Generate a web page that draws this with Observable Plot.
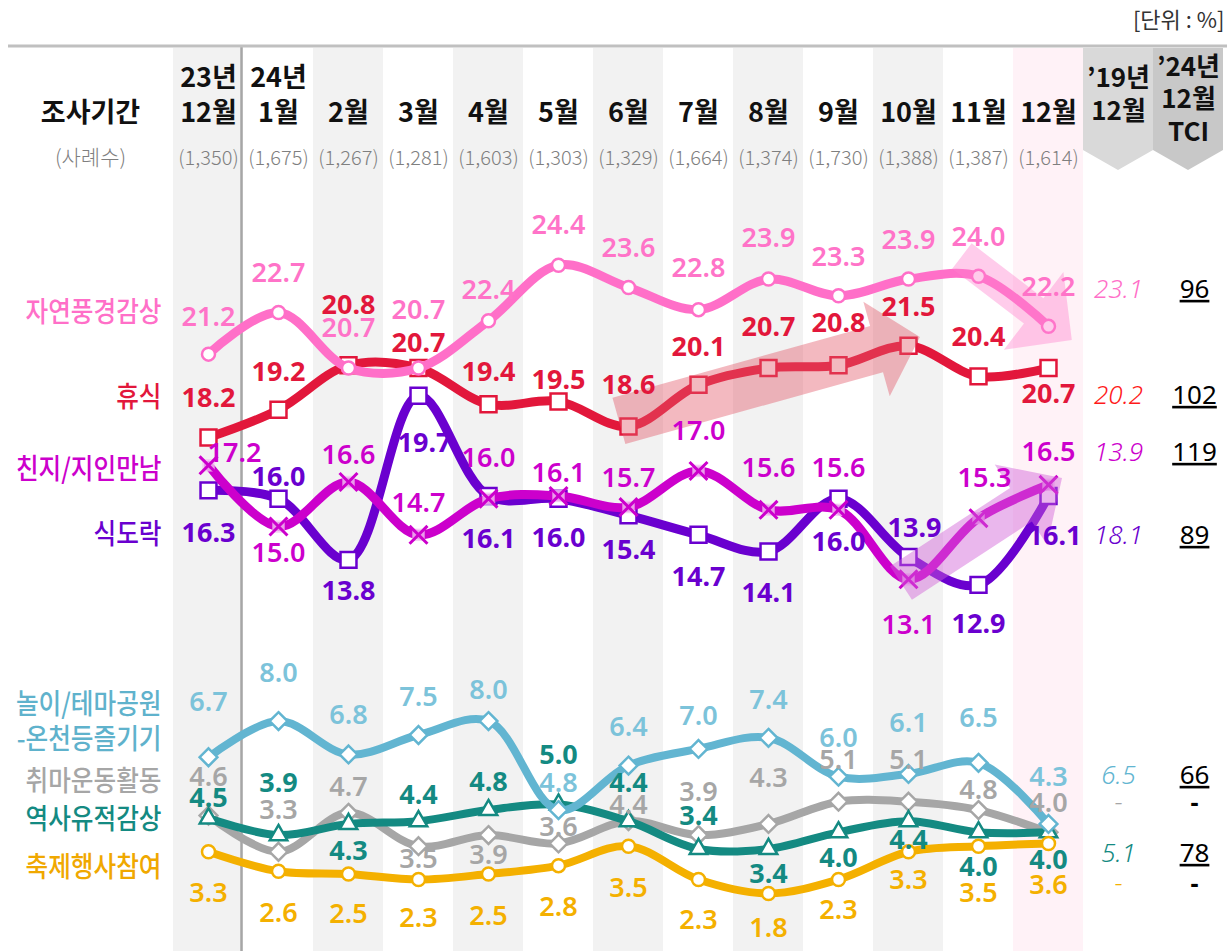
<!DOCTYPE html>
<html>
<head>
<meta charset="utf-8">
<script src="https://cdn.jsdelivr.net/npm/d3@7"></script>
<script src="https://cdn.jsdelivr.net/npm/@observablehq/plot@0.6"></script>
<style>
  body { margin: 0; background: #fff; }
  #chart svg { display: block; }
  g[font-variant="tabular-nums"] text { text-decoration: underline; text-decoration-thickness: 2px; text-underline-offset: 3px; }
</style>
</head>
<body>
<div id="chart"></div>
<script>
// ---------- DATA ----------
const periodYear = ["23년", "24년", "", "", "", "", "", "", "", "", "", "", ""];
const periodMonth = ["12월", "1월", "2월", "3월", "4월", "5월", "6월", "7월", "8월", "9월", "10월", "11월", "12월"];
const sampleSizes = [1350, 1675, 1267, 1281, 1603, 1303, 1329, 1664, 1374, 1730, 1388, 1387, 1614];

const seriesNames = ["자연풍경감상", "휴식", "친지/지인만남", "식도락", "놀이/테마공원\n-온천등즐기기", "취마운동활동", "역사유적감상", "축제행사참여"];

const natureSightseeing = [21.2, 22.7, 20.7, 20.7, 22.4, 24.4, 23.6, 22.8, 23.9, 23.3, 23.9, 24.0, 22.2];
const rest              = [18.2, 19.2, 20.8, 20.7, 19.4, 19.5, 18.6, 20.1, 20.7, 20.8, 21.5, 20.4, 20.7];
const meetingFriends    = [17.2, 15.0, 16.6, 14.7, 16.0, 16.1, 15.7, 17.0, 15.6, 15.6, 13.1, 15.3, 16.5];
const gourmet           = [16.3, 16.0, 13.8, 19.7, 16.1, 16.0, 15.4, 14.7, 14.1, 16.0, 13.9, 12.9, 16.1];
const themeParkSpa      = [6.7, 8.0, 6.8, 7.5, 8.0, 4.8, 6.4, 7.0, 7.4, 6.0, 6.1, 6.5, 4.3];
const hobbySports       = [4.6, 3.3, 4.7, 3.5, 3.9, 3.6, 4.4, 3.9, 4.3, 5.1, 5.1, 4.8, 4.0];
const historicSites     = [4.5, 3.9, 4.3, 4.4, 4.8, 5.0, 4.4, 3.4, 3.4, 4.0, 4.4, 4.0, 4.0];
const festivals         = [3.3, 2.6, 2.5, 2.3, 2.5, 2.8, 3.5, 2.3, 1.8, 2.3, 3.3, 3.5, 3.6];

const dec2019 = [23.1, 20.2, 13.9, 18.1, 6.5, null, 5.1, null];
const tci2024 = [96, 102, 119, 89, 66, null, 78, null];

const bannerHeaders = [["’19년", "12월"], ["’24년", "12월", "TCI"]];
const unitNote = "[단위 : %]";
const periodTitle = "조사기간";
const sampleTitle = "(사례수)";

// trend arrows: from/to in (column index, value)
const trendArrows = [
  {from: [5.87, 18.78], to: [10.17, 21.8]},
  {from: [10.77, 24.71], to: [12.34, 21.69]},
  {from: [9.9, 12.95], to: [12.2, 16.73]}
];

// ---------- STYLES / LAYOUT ----------
const KR = "'Noto Sans CJK KR', 'Noto Sans', sans-serif";
const NUM = "'Noto Sans', 'DejaVu Sans', sans-serif";

const seriesValues = [natureSightseeing, rest, meetingFriends, gourmet, themeParkSpa, hobbySports, historicSites, festivals];
const seriesStyle = [
  {color: "#ff6fc8", label: "#ff73c8", symbol: "circle", r: 6.5, lw: 9, weight: 600,
   dy: [-37, -39, -40, -58, -30, -40, -39, -41, -41, -38, -39, -39, -39], dx: []},
  {color: "#e2173b", label: "#e2173b", symbol: "square", r: 9, lw: 9, weight: 700,
   dy: [-39, -37, -60, -25, -32, -21, -41, -37, -41, -42, -38, -39, 26], dx: []},
  {color: "#cc00cc", label: "#cc00cc", symbol: "times", r: 8.2, lw: 9, weight: 600,
   dy: [-12, 27, -27, -31, -40, -23, -29, -40, -41, -41, 46, -40, -32], dx: [26, 0, 0, 0, 0, 0, 0, 0, 0, 0, 0, 6, 0]},
  {color: "#6a00cf", label: "#6a00cf", symbol: "square", r: 9, lw: 9, weight: 700,
   dy: [43, -21, 31, 48, 43, 40, 35, 43, 42, 44, -29, 39, 40], dx: [0, 0, 0, 6, 0, 0, 0, 0, 0, 0, 6, 0, 6]},
  {color: "#62b5d1", label: "#7cc3da", symbol: "diamond2", r: 8, lw: 8, weight: 600,
   dy: [-55, -48, -39, -38, -31, -27, -38, -33, -37, -38, -51, -44, -47], dx: []},
  {color: "#a6a6a6", label: "#a6a6a6", symbol: "diamond2", r: 8, lw: 8, weight: 600,
   dy: [-38, -41, -25, 13, 20, -16, -16, -43, -46, -41, -41, -20, -29], dx: []},
  {color: "#148a82", label: "#148a82", symbol: "triangle", r: 6.5, lw: 8, weight: 700,
   dy: [-20, -52, 27, -26, -28, -49, -38, -33, 25, 26, 19, 35, 28], dx: []},
  {color: "#f4b000", label: "#f4b000", symbol: "circle", r: 6.5, lw: 8, weight: 600,
   dy: [42, 42, 40, 39, 42, 42, 42, 41, 35, 31, 29, 47, 42], dx: []}
];
const nameColors = ["#ff6fc8", "#e2173b", "#cc00cc", "#6a00cf", "#5fb2cc", "#a6a6a6", "#148a82", "#f0a800"];
const nameRowY = [313, 398, 470, 535, [705, 740], 782, 820, 868];
const nameCondense = 0.88;
const rightRowY = [289, 395, 452, 535, 775, 802, 853, 883];
const refColors = ["#ff6fc8", "#ff1a1a", "#cc00cc", "#6a00cf", "#62b5d1", "#a6a6a6", "#148a82", "#f4b000"];
const drawOrder = [5, 6, 7, 4, 1, 3, 2, 0];
const arrowStyle = [
  {fill: "#e2576a", opacity: 0.42, body: 24, head: 49, headLen: 45},
  {fill: "#ff80cc", opacity: 0.4, body: 16, head: 49, headLen: 48},
  {fill: "#d060d8", opacity: 0.45, body: 20, head: 48, headLen: 49}
];

// ---------- BUILD ----------
const cols = periodMonth.map((_, i) => i);
const marks = [];

// column shading
marks.push(Plot.rect(cols.filter(i => i % 2 === 0 && i < 12), {x1: d => d - 0.5, x2: d => d + 0.5, fill: "#f2f2f2", insetTop: 48}));
marks.push(Plot.rect([12], {x1: d => d - 0.5, x2: d => d + 0.5, fill: "#fff2f7", insetTop: 48}));
marks.push(Plot.ruleX([0.5], {stroke: "#a6a6a6", strokeWidth: 2.5, insetTop: 47, dx: -2}));

// top rule + banners
marks.push((index, scales, values, dimensions) => {
  const g = d3.create("svg:g");
  g.append("line").attr("x1", 8).attr("x2", dimensions.width).attr("y1", 46).attr("y2", 46)
    .attr("stroke", "#c0c0c0").attr("stroke-width", 3);
  const fills = ["#d9d9d9", "#c8c8c8"];
  [13, 14].forEach((c, k) => {
    const xl = scales.x(c - 0.5), xr = Math.min(scales.x(c + 0.5), dimensions.width - 3), xc = scales.x(c);
    g.append("path").attr("d", `M${xl},48V150L${xc},170L${xr},150V48Z`).attr("fill", fills[k]);
  });
  return g.node();
});

// lines and markers
for (const k of drawOrder) {
  const st = seriesStyle[k];
  const rows = seriesValues[k].map((v, i) => ({i, v}));
  marks.push(Plot.line(rows, {x: "i", y: "v", stroke: st.color, strokeWidth: st.lw, curve: "catmull-rom", strokeLinejoin: "round"}));
  if (st.symbol === "times") {
    marks.push(Plot.dot(rows, {x: "i", y: "v", symbol: "square", r: 7, fill: "#f1c4f1", fillOpacity: 0.8}));
    marks.push(Plot.dot(rows, {x: "i", y: "v", symbol: "times", r: st.r, stroke: st.color, strokeWidth: 3}));
  } else {
    marks.push(Plot.dot(rows, {x: "i", y: "v", symbol: st.symbol, r: st.r, fill: "white", stroke: st.color, strokeWidth: 2.5}));
  }
}

// trend arrows
marks.push((index, scales) => {
  const g = d3.create("svg:g");
  trendArrows.forEach((a, k) => {
    const s = arrowStyle[k];
    const sx = scales.x(a.from[0]), sy = scales.y(a.from[1]);
    const tx = scales.x(a.to[0]), ty = scales.y(a.to[1]);
    const L = Math.hypot(tx - sx, ty - sy);
    const ux = (tx - sx) / L, uy = (ty - sy) / L, nx = -uy, ny = ux;
    const bx = tx - ux * s.headLen, by = ty - uy * s.headLen;
    const pts = [
      [sx + nx * s.body, sy + ny * s.body], [bx + nx * s.body, by + ny * s.body],
      [bx + nx * s.head, by + ny * s.head], [tx, ty],
      [bx - nx * s.head, by - ny * s.head], [bx - nx * s.body, by - ny * s.body],
      [sx - nx * s.body, sy - ny * s.body]
    ];
    g.append("path").attr("d", "M" + pts.map(p => p.join(",")).join("L") + "Z")
      .attr("fill", s.fill).attr("fill-opacity", s.opacity);
  });
  return g.node();
});

// value labels
for (const k of drawOrder) {
  const st = seriesStyle[k];
  seriesValues[k].forEach((v, i) => {
    marks.push(Plot.text([{i, v}], {
      x: "i", y: "v", text: d => d.v.toFixed(1),
      dx: st.dx[i] || 0, dy: st.dy[i], fill: st.label,
      fontSize: 27, fontWeight: st.weight, fontFamily: NUM, lineAnchor: "middle"
    }));
  });
}

// header texts
const T = {lineAnchor: "middle"};
marks.push(Plot.text([unitNote], {...T, frameAnchor: "top-right", dx: -3, dy: 20, textAnchor: "end", fontSize: 22, fill: "#333", fontFamily: KR}));
marks.push(Plot.text([periodTitle], {...T, frameAnchor: "top-left", dx: 90, dy: 113, textAnchor: "middle", fontSize: 27, fontWeight: 700, fill: "#111", fontFamily: KR}));
marks.push(Plot.text([sampleTitle], {...T, frameAnchor: "top-left", dx: 90, dy: 158, textAnchor: "middle", fontSize: 21, fill: "#7f7f7f", fontFamily: KR, fontWeight: 300}));
marks.push(Plot.text(cols, {...T, x: d => d, text: d => periodMonth[d], frameAnchor: "top", dy: 113, fontSize: 27, fontWeight: 700, fill: "#111", fontFamily: KR}));
marks.push(Plot.text(cols.filter(d => periodYear[d]), {...T, x: d => d, text: d => periodYear[d], frameAnchor: "top", dy: 78, fontSize: 27, fontWeight: 700, fill: "#111", fontFamily: KR}));
marks.push(Plot.text(cols, {...T, x: d => d, text: d => `(${d3.format(",")(sampleSizes[d])})`, frameAnchor: "top", dy: 158, fontSize: 20, fontWeight: 300, fill: "#7f7f7f", fontFamily: KR}));

// banner header texts
const bannerLineY = [[78, 111], [67, 99, 132]];
bannerHeaders.forEach((lines, k) => {
  lines.forEach((t, j) => {
    marks.push(Plot.text([t], {...T, x: () => 13 + k, text: d => d, frameAnchor: "top", dy: bannerLineY[k][j], fontSize: 26, fontWeight: 700, fill: "#111", fontFamily: KR}));
  });
});

// series names (left)
const nameParts = [];
seriesNames.forEach((name, k) => {
  const parts = name.split("\n");
  const ys = Array.isArray(nameRowY[k]) ? nameRowY[k] : [nameRowY[k]];
  parts.forEach((p, j) => {
    nameParts.push(p);
    marks.push(Plot.text([p], {...T, frameAnchor: "top-left", dx: 161, dy: ys[j], textAnchor: "end", fontSize: 28, fontWeight: 500, fill: nameColors[k], fontFamily: KR}));
  });
});

// 2019 reference and TCI columns
dec2019.forEach((v, k) => {
  marks.push(Plot.text([v], {...T, x: () => 13, text: d => d == null ? "-" : d.toFixed(1), frameAnchor: "top", dy: rightRowY[k],
    fontSize: 26, fontStyle: "italic", fontWeight: 300, fill: refColors[k], fontFamily: NUM}));
});
tci2024.forEach((v, k) => {
  if (v == null) {
    marks.push(Plot.text(["-"], {...T, x: () => 14, text: d => d, frameAnchor: "top", dy: rightRowY[k], dx: 6, fontSize: 25, fontWeight: 700, fill: "#000", fontFamily: NUM}));
  } else {
    marks.push(Plot.text([v], {...T, x: () => 14, text: d => String(d), frameAnchor: "top", dy: rightRowY[k], dx: 6, fontSize: 26, fontWeight: 400, fill: "#000", fontFamily: NUM, fontVariant: "tabular-nums"}));
  }
});

const chart = Plot.plot({
  width: 1227,
  height: 951,
  marginTop: 0, marginRight: 0, marginBottom: 0, marginLeft: 0,
  x: {type: "linear", domain: [-0.5, 14.5], range: [173, 1223], axis: null},
  y: {type: "linear", domain: [0, 25], range: [943, 248], axis: null},
  style: {background: "#fff", overflow: "visible"},
  marks
});
document.getElementById("chart").appendChild(chart);

// condense the series-name labels horizontally (narrow typeface look)
d3.select(chart).selectAll("text").each(function () {
  if (nameParts.includes(this.textContent)) {
    const w = this.getComputedTextLength();
    this.setAttribute("textLength", (w * nameCondense).toFixed(1));
    this.setAttribute("lengthAdjust", "spacingAndGlyphs");
  }
});
</script>
</body>
</html>
